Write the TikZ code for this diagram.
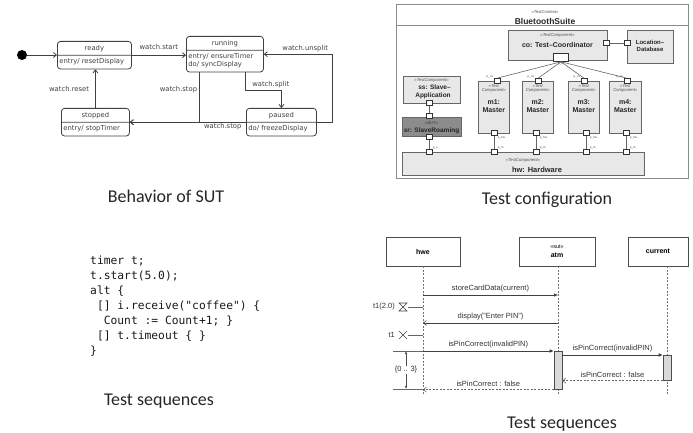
\documentclass[tikz,border=0pt]{standalone}
\usepackage{fontspec}
\setmainfont{Liberation Sans}
\setmonofont{DejaVu Sans Mono}
\newfontfamily\capfont{Carlito}
\newfontfamily\smfont{DejaVu Sans}
\usetikzlibrary{arrows.meta,shapes.multipart,positioning}

\tikzset{
  smstate/.style={draw=black!75, line width=.8pt, rounded corners=3pt, rectangle split, rectangle split parts=2,
    rectangle split part align={center,left}, align=left, inner xsep=2pt, inner ysep=3.2pt,
    font=\smfont\fontsize{6.8}{8}\selectfont, text=black!75, anchor=north west},
  tr/.style={draw=black!75, line width=.8pt, -{Straight Barb[length=3pt,width=5pt]}},
  tlbl/.style={font=\smfont\fontsize{6.8}{8}\selectfont, text=black!75, inner sep=0pt},
  caption/.style={font=\capfont\fontsize{18}{20}\selectfont, text=black!85, inner sep=0pt},
  comp/.style={draw=black!60, fill=black!9, line width=.6pt, anchor=north west, inner sep=0pt},
  port/.style={draw=black!80, fill=white, line width=.6pt, minimum width=6pt, minimum height=5pt, inner sep=0pt},
  wire/.style={draw=black!60, line width=.6pt},
  stereo/.style={font=\itshape\fontsize{4.2}{4.6}\selectfont, text=black!70, inner sep=0pt, align=center},
  cname/.style={font=\bfseries\fontsize{7}{8.5}\selectfont, text=black!85, inner sep=0pt, align=center},
  plbl/.style={font=\fontsize{3}{3}\selectfont, text=black!70, inner sep=.3pt},
  life/.style={draw=black!70, fill=white, line width=.6pt, minimum height=29pt, inner sep=0pt, align=center,
    font=\fontsize{7}{8.5}\selectfont},
  lline/.style={draw=black!55, line width=.6pt, dashed, dash pattern=on 2pt off 1.5pt},
  act/.style={draw=black!70, fill=black!15, line width=.6pt, minimum width=8pt, inner sep=0pt, anchor=north},
  msg/.style={draw=black!75, line width=.6pt, -{Latex[length=4pt,width=3.5pt]}},
  reply/.style={draw=black!60, line width=.6pt, dashed, dash pattern=on 2pt off 1.5pt, -{Straight Barb[length=3pt,width=5pt]}},
  mlbl/.style={font=\fontsize{7.5}{9}\selectfont, text=black!80, inner sep=0pt}
}

\begin{document}
\begin{tikzpicture}[x=1pt, y=-1pt]
\useasboundingbox (0,0) rectangle (693,433);

% behaviour of the SUT
\node[circle, fill, inner sep=0pt, minimum size=10pt] (init) at (22,55) {};
\node[smstate, minimum width=74pt] (ready) at (57,41) {ready \nodepart{two} entry/ resetDisplay};
\node[smstate, minimum width=77pt] (running) at (186,36) {running \nodepart{two} entry/ ensureTimer\\do/ syncDisplay};
\node[smstate, minimum width=68pt] (stopped) at (61,108) {stopped \nodepart{two} entry/ stopTimer};
\node[smstate, minimum width=70pt] (paused) at (246,108) {paused \nodepart{two} do/ freezeDisplay};
\draw[tr] (init) -- (init -| ready.west);
\draw[tr] (ready.east) -- (ready.east -| running.west) node[tlbl, midway, above=5pt] {watch.start};
\draw[tr] (stopped.north) -- (stopped.north |- ready.south) node[tlbl, midway, left=6pt] {watch.reset};
\draw[tr] ([xshift=13pt]running.south west) |- (stopped.east) node[tlbl, pos=.17, left=1.5pt] {watch.stop};
\draw[tr] (paused.west) -- (stopped.east) node[tlbl, pos=.2, below=.5pt] {watch.stop};
\draw[tr] ([xshift=-18pt]running.south east) -- ++(0,18) -| (paused.north) node[tlbl, pos=.35, above=2pt] {watch.split};
\draw[tr] (paused.east) -- ++(16,0) |- (running.east) node[tlbl, pos=.7, above=2pt] {watch.unsplit};
\node[caption] (capSut) at (166,196) {Behavior of SUT};

% test configuration
\node[draw=black!45, line width=1.2pt, minimum width=292pt, minimum height=174pt, anchor=north west, inner sep=0pt] (ctx) at (396,4) {};
\draw[black!45, line width=.8pt] (ctx.west |- 0,25) -- (ctx.east |- 0,25);
\node[stereo] (ctxSt) at (545,12) {«TestContext»};
\node[cname, font=\bfseries\fontsize{8.5}{10}\selectfont] (ctxName) at (545,21) {BluetoothSuite};

\node[comp, minimum width=99pt, minimum height=30pt] (co) at (508,30) {};
\node[stereo] (coSt) at (557.5,35) {«TestComponent»};
\node[cname] (coName) at (557.5,45) {co: Test–Coordinator};
\node[comp, minimum width=46pt, minimum height=33pt] (loc) at (627,30) {};
\node[cname, font=\bfseries\fontsize{6}{7.5}\selectfont] (locName) at (650,46) {Location–\\Database};
\node[comp, minimum width=57pt, minimum height=27pt] (ss) at (403,76) {};
\node[stereo] (ssSt) at (431.5,80) {«TestComponent»};
\node[cname, font=\bfseries\fontsize{6.5}{8}\selectfont, align=right] (ssName) at (433,92) {ss: Slave–\\Application};
\node[comp, fill=black!45, minimum width=59pt, minimum height=19pt] (sr) at (402,117) {};
\node[stereo, text=black!80] (srSt) at (431.5,123) {«SUT»};
\node[cname, font=\bfseries\fontsize{6.5}{8}\selectfont] (srName) at (431.5,131) {sr: SlaveRoaming};
\node[comp, minimum width=242pt, minimum height=23pt] (hw) at (402,152) {};
\node[stereo] (hwSt) at (523,160) {«TestComponent»};
\node[cname, font=\bfseries\fontsize{7.5}{9}\selectfont] (hwName) at (537,170) {hw: Hardware};
\foreach \i/\x/\w in {1/478/31,2/522/31,3/568/31,4/609/32}{
  \node[comp, minimum width=\w pt, minimum height=52pt] (m\i) at (\x,81) {};
  \node[stereo, below=3pt of m\i.north] (m\i st) {«Test\\Component»};
  \node[cname, below=6.5pt of m\i st] (m\i name) {m\i:\\Master};
}

\node[port] (coloc) at (606,43) {};
\node[port] (locco) at (627,43) {};
\draw[wire] (coloc) -- (locco);
\node[port, minimum width=15pt, minimum height=8pt] (cop) at (561,57.5) {};
\node[plbl, text=red!60!black, below=.5pt of cop] (copLbl) {p\_m};
\node[port] (ssp) at (429,103) {};
\node[port] (srss) at (429,116) {};
\node[port] (srhw) at (429,137) {};
\node[port] (hws) at (429,152) {};
\draw[wire] (ssp) -- (srss);
\draw[wire] (srhw) -- (hws);
\node[plbl, anchor=south west] (hwsLbl) at (hws.north east) {p\_s};
\foreach \i/\xt/\xb in {1/497/494,2/538/536,3/584/586,4/627/626}{
  \node[port] (m\i co) at (\xt,81) {};
  \node[port] (m\i hw) at (\xb,133) {};
  \node[port] (hwm\i) at (\xb,152) {};
  \draw[wire] (cop.south) -- (m\i co.north);
  \draw[wire] (m\i hw) -- (hwm\i);
  \node[plbl, anchor=south east] (m\i coLbl) at (m\i co.north west) {p\_co};
  \node[plbl, anchor=north west] (m\i hwLbl) at (m\i hw.south east) {p\_hw};
  \node[plbl, anchor=south west] (hwm\i Lbl) at (hwm\i.north east) {p\_m};
}
\node[caption] (capCfg) at (547,200) {Test configuration};

% test sequence, code
\node[anchor=north west, inner sep=0pt, align=left, text=black!90,
  font=\ttfamily\fontsize{11.3}{15}\selectfont] (code) at (90,256)
  {timer t;\\
   t.start(5.0);\\
   alt \{\\
   \hphantom{x}[] i.receive("coffee") \{\\
   \hphantom{xx}Count := Count+1; \}\\
   \hphantom{x}[] t.timeout \{ \}\\
   \}};
\node[caption] (capCode) at (159,401) {Test sequences};

% test sequence, diagram
\node[life, minimum width=74pt] (hwe) at (423,251.5) {\textbf{hwe}};
\node[life, minimum width=76pt] (atm) at (557,251.5) {{\fontsize{5.5}{6}\selectfont«sut»}\\[1pt]\textbf{atm}};
\node[life, minimum width=60pt] (current) at (658,251.5) {\textbf{current}};
\coordinate (hweEnd) at (423,395);
\coordinate (atmEnd) at (558,395);
\coordinate (curTop) at (667,266);
\coordinate (curEnd) at (667,395);
\draw[lline] (hwe.south) -- (hweEnd);
\draw[lline] (atm.south -| atmEnd) -- (atmEnd);
\draw[lline] (curTop) -- (curEnd);
\node[act, minimum height=38pt] (atmAct) at (558,351) {};
\node[act, minimum height=25pt] (curAct) at (667,355) {};

\draw[msg] (hwe |- 0,295) -- (atmEnd |- 0,295) node[mlbl, midway, above=2.5pt] {storeCardData(current)};
\draw[draw=black!75, line width=.6pt, -{Straight Barb[length=3pt,width=5pt]}] (atmEnd |- 0,323) -- (hwe |- 0,323)
  node[mlbl, midway, above=2.5pt] {display("Enter PIN")};
\draw[msg] (hwe |- atmAct.north) -- (atmAct.north west) node[mlbl, midway, above=2.5pt] {isPinCorrect(invalidPIN)};
\draw[msg] (atmAct.east |- curAct.north) -- (curAct.north west) node[mlbl, midway, above=2.5pt] {isPinCorrect(invalidPIN)};
\draw[reply] (curAct.south west) -- (atmAct.east |- curAct.south) node[mlbl, midway, above=3pt] {isPinCorrect : false};
\draw[reply] (atmAct.south west) -- (hwe |- atmAct.south) node[mlbl, midway, above=3pt] {isPinCorrect : false};

% timers
\coordinate (tset) at (403,307);
\draw[black!75, line width=.6pt] ([shift={(-4,-4)}]tset) -- ++(8,0) -- ++(-8,8) -- ++(8,0) -- cycle;
\draw[black!60, line width=.6pt] ([xshift=5pt]tset) -- (hwe |- tset);
\node[mlbl, left=8pt of tset] (tsetLbl) {t1(2.0)};
\coordinate (tout) at (403,335);
\draw[black!75, line width=.6pt] ([shift={(-4,-4)}]tout) -- ++(8,8) ([shift={(-4,4)}]tout) -- ++(8,-8);
\draw[black!60, line width=.6pt] ([xshift=5pt]tout) -- (hwe |- tout);
\node[mlbl, left=8pt of tout] (toutLbl) {t1};

% duration constraint
\coordinate (dTop) at (393,351);
\coordinate (dBot) at (393,389);
\draw[black!60, line width=.6pt] (dTop) -- (hwe |- dTop);
\draw[black!60, line width=.6pt] (dBot) -- (hwe |- dBot);
\draw[black!70, line width=.6pt, {Latex[length=3pt,width=2.5pt]}-{Latex[length=3pt,width=2.5pt]}] ([xshift=13pt]dTop) -- ([xshift=13pt]dBot)
  node[mlbl, midway, fill=white, inner sep=1pt] {\{0 .. 3\}};
\node[caption] (capSeq) at (562,424) {Test sequences};
\end{tikzpicture}
\end{document}
